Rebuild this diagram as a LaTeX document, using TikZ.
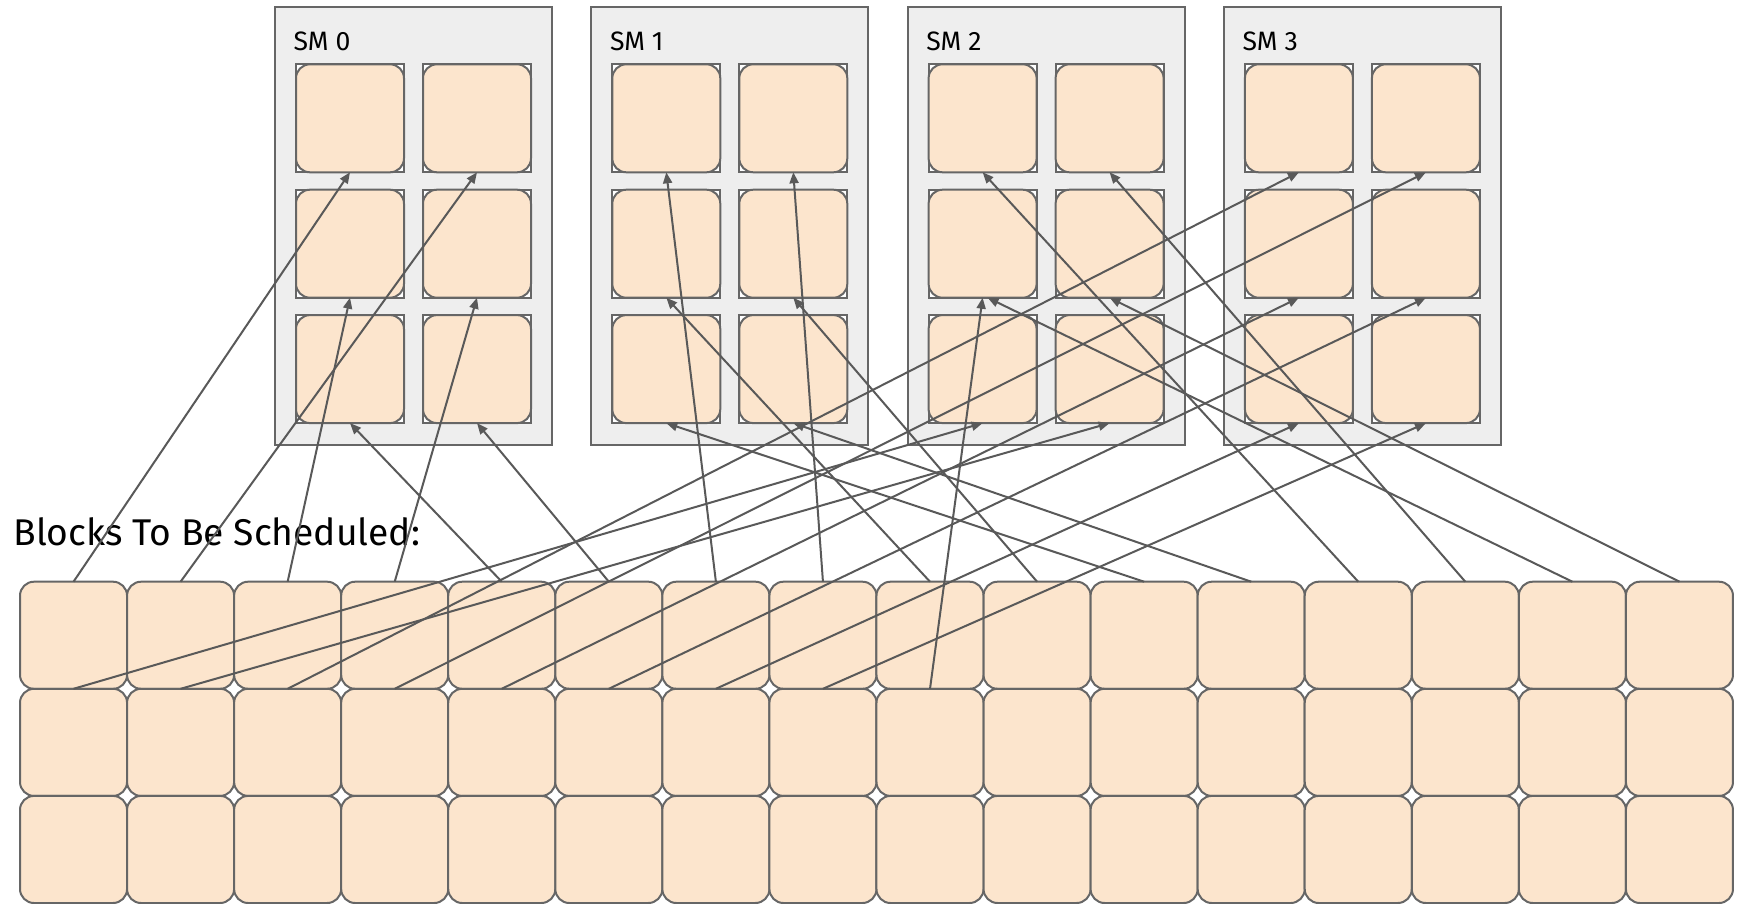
\documentclass[tikz,border=0pt]{standalone}
\usepackage{fontspec}
\setmainfont{Fira Sans}
\usetikzlibrary{arrows.meta}
\definecolor{blockfill}{HTML}{FCE5CD}
\definecolor{edgegray}{HTML}{666666}
\definecolor{smfill}{HTML}{EEEEEE}
\definecolor{arrgray}{HTML}{595959}
\begin{document}
\begin{tikzpicture}[x=0.5pt,y=-0.5pt,
  blk/.style={draw=edgegray,fill=blockfill,line width=1pt,rounded corners=7pt,
    minimum width=53.53pt,minimum height=53.55pt,inner sep=0pt,outer sep=0pt,anchor=north west},
  smbox/.style={draw=edgegray,fill=smfill,line width=1pt,minimum width=138.5pt,
    minimum height=218.9pt,inner sep=0pt,outer sep=0pt,anchor=north west},
  slotsq/.style={draw=edgegray,fill=white,line width=1pt,minimum width=54pt,
    minimum height=54pt,inner sep=0pt,outer sep=0pt,anchor=north west},
  slotrnd/.style={draw=edgegray,fill=blockfill,line width=1pt,rounded corners=7pt,
    minimum width=54pt,minimum height=54pt,inner sep=0pt,outer sep=0pt},
  smlabel/.style={anchor=base west,inner sep=0pt,font=\fontsize{13.3pt}{15pt}\selectfont},
  title/.style={anchor=base west,inner sep=0pt,font=\fontsize{18.6pt}{21pt}\selectfont},
  conn/.style={draw=arrgray,line width=1pt,-{Triangle[length=5.5pt,width=4.5pt]}}]
\useasboundingbox (0,0) rectangle (1740,904);
% blocks to be scheduled
\foreach \r in {1,2,3}{
  \foreach \c in {0,...,15}{
    \node[blk] (b-\r-\c) at ({20+107.06*\c},{581.7+107.1*(\r-1)}) {};
  }
}
% SMs
\foreach \k in {0,1,2,3}{
  \node[smbox] (sm\k) at ({275+316.3*\k},6.7) {};
  \node[smlabel] (lab\k) at ({293.3+316.3*\k},51) {SM \k};
  \foreach \r in {0,1,2}{
    \foreach \c in {0,1}{
      \node[slotsq] (s-\k-\r-\c) at ({296+316.3*\k+127*\c},{64.3+125.4*\r}) {};
      \node[slotrnd] (sr-\k-\r-\c) at (s-\k-\r-\c.center) {};
    }
  }
}
\node[title] (ttl) at (13,545) {Blocks To Be Scheduled:};
% connectors
\foreach \s/\t in {b-1-0/s-0-0-0, b-1-1/s-0-0-1, b-1-2/s-0-1-0, b-1-3/s-0-1-1,
  b-1-4/s-0-2-0, b-1-5/s-0-2-1, b-1-6/s-1-0-0, b-1-7/s-1-0-1, b-1-8/s-1-1-0,
  b-1-9/s-1-1-1, b-1-10/s-1-2-0, b-1-11/s-1-2-1, b-1-12/s-2-0-0, b-1-13/s-2-0-1,
  b-1-15/s-2-1-1, b-2-0/s-2-2-0, b-2-1/s-2-2-1, b-2-2/s-3-0-0, b-2-3/s-3-0-1,
  b-2-4/s-3-1-0, b-2-5/s-3-1-1, b-2-6/s-3-2-0, b-2-7/s-3-2-1, b-2-8/s-2-1-0}{
  \draw[conn] (\s.north) -- (\t.south);
}
\draw[conn] (b-1-14.north) -- ([xshift=2.5pt]s-2-1-0.south);
\end{tikzpicture}
\end{document}
